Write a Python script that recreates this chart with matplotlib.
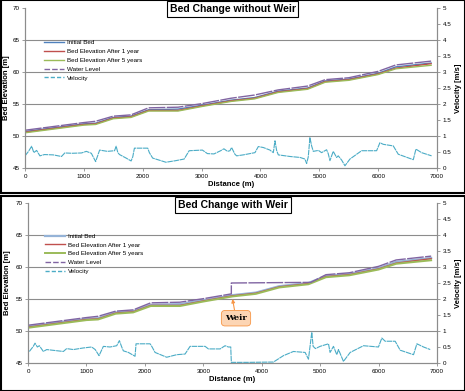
import matplotlib
matplotlib.use('Agg')
import matplotlib.pyplot as plt
from matplotlib.patches import Rectangle

plt.rcParams['font.family'] = ['Liberation Sans', 'DejaVu Sans']

# bed profiles (distance in m, elevation in m)
bed_dist = [0, 1000, 1200, 1500, 1800, 2100, 2600, 3000, 3500, 3900, 4300, 4800, 5100, 5500, 6000, 6300, 6900]
bed_initial = [50.7, 51.9, 52.0, 52.9, 53.1, 54.1, 54.2, 54.8, 55.6, 56.0, 57.0, 57.5, 58.6, 58.9, 59.8, 60.8, 61.4]
bed_1yr = [50.6, 51.8, 51.9, 52.8, 53.0, 54.0, 54.0, 54.7, 55.5, 55.9, 56.9, 57.4, 58.5, 58.8, 59.7, 60.6, 61.3]
bed_5yr = [50.5, 51.7, 51.8, 52.7, 52.9, 53.9, 53.9, 54.6, 55.4, 55.8, 56.8, 57.3, 58.4, 58.7, 59.6, 60.5, 61.05]

# water level without weir
wl_dist = [0, 1000, 1200, 1500, 1800, 2100, 2600, 3000, 3500, 3900, 4300, 4800, 5100, 5500, 6000, 6300, 6900]
wl_no_weir = [50.9, 52.1, 52.3, 53.1, 53.3, 54.4, 54.5, 55.05, 55.9, 56.4, 57.2, 57.8, 58.8, 59.1, 60.1, 61.1, 61.7]

# water level with weir (backwater behind the weir at ~3480 m)
wl_weir_dist = [0, 1000, 1200, 1500, 1800, 2100, 2600, 3000, 3480, 3480, 4840, 5100, 5500, 6000, 6300, 6900]
wl_weir = [50.9, 52.1, 52.3, 53.1, 53.3, 54.4, 54.5, 55.05, 55.8, 57.5, 57.6, 58.8, 59.1, 60.1, 61.1, 61.7]

# velocity without weir (m/s)
vel_dist = [0, 60, 113, 150, 197, 253, 330, 480, 620, 676, 800, 960, 1042, 1127, 1200, 1268, 1400,
            1521, 1549, 1577, 1606, 1718, 1803, 1831, 1859, 2085, 2113, 2169, 2394, 2563, 2704, 2789,
            3014, 3099, 3211, 3324, 3380, 3440, 3482, 3510, 3567, 3596, 3709, 3907, 3964, 4049, 4162,
            4219, 4247, 4275, 4304, 4502, 4672, 4756, 4785, 4813, 4841, 4870, 4898, 4985, 5039, 5124,
            5152, 5181, 5237, 5294, 5322, 5379, 5436, 5521, 5719, 5974, 6030, 6087, 6257, 6342, 6597,
            6642, 6738, 6908]
vel_no_weir = [0.38, 0.52, 0.68, 0.48, 0.55, 0.38, 0.42, 0.41, 0.36, 0.47, 0.46, 0.47, 0.52, 0.46, 0.2, 0.56, 0.52,
               0.54, 0.68, 0.48, 0.42, 0.31, 0.22, 0.35, 0.62, 0.62, 0.48, 0.31, 0.18, 0.23, 0.28, 0.54,
               0.56, 0.45, 0.44, 0.54, 0.6, 0.52, 0.54, 0.64, 0.43, 0.38, 0.41, 0.48, 0.67, 0.64, 0.56,
               0.48, 0.85, 0.55, 0.41, 0.36, 0.33, 0.28, 0.14, 0.35, 0.95, 0.69, 0.52, 0.55, 0.48, 0.57,
               0.45, 0.23, 0.52, 0.33, 0.38, 0.25, 0.07, 0.28, 0.54, 0.54, 0.79, 0.74, 0.69, 0.43, 0.26,
               0.59, 0.48, 0.38]

# velocity with weir (m/s)
vel_weir_dist = [23, 91, 120, 160, 194, 263, 320, 605, 662, 776, 947, 1090, 1150, 1216, 1290, 1404, 1518,
                 1564, 1604, 1632, 1718, 1832, 1849, 2089, 2118, 2175, 2374, 2546, 2688, 2774, 3031, 3088,
                 3288, 3373, 3430, 3470, 3480, 3773, 4201, 4372, 4543, 4743, 4800, 4857, 4880, 4920, 4999,
                 5143, 5170, 5228, 5285, 5314, 5399, 5514, 5742, 5998, 6056, 6113, 6284, 6370, 6598, 6656,
                 6770, 6884]
vel_weir = [0.36, 0.52, 0.62, 0.5, 0.54, 0.36, 0.42, 0.36, 0.45, 0.42, 0.47, 0.5, 0.42, 0.23, 0.52, 0.5, 0.54,
            0.7, 0.5, 0.38, 0.33, 0.21, 0.6, 0.6, 0.52, 0.33, 0.18, 0.26, 0.28, 0.52, 0.52, 0.44,
            0.44, 0.54, 0.5, 0.5, 0.02, 0.02, 0.03, 0.23, 0.36, 0.33, 0.12, 0.96, 0.52, 0.45, 0.52,
            0.6, 0.33, 0.52, 0.26, 0.42, 0.05, 0.33, 0.54, 0.5, 0.78, 0.68, 0.68, 0.4, 0.26, 0.6,
            0.5, 0.42]

W, H = 465, 391
fig = plt.figure(figsize=(W / 100, H / 100), dpi=100)


def px_axes(left, top, right, bottom):
    return fig.add_axes([left / W, 1 - bottom / H, (right - left) / W, (bottom - top) / H])


def draw_panel(ax, wl_x, wl_y, v_x, v_y, init_color, init_lw, green_lw, leg_anchor, ypad):
    ax.plot(bed_dist, bed_initial, color=init_color, lw=init_lw, label='Initial Bed')
    ax.plot(bed_dist, bed_1yr, color='#c0504d', lw=1.0, label='Bed Elevation After 1 year')
    ax.plot(bed_dist, bed_5yr, color='#9bbb59', lw=green_lw, label='Bed Elevation After 5 years')
    ax.plot(wl_x, wl_y, color='#8064a2', lw=1.0, ls=(0, (12, 1)))
    # legend samples show the dash style more clearly
    ax.plot([], [], color='#8064a2', lw=1.0, ls=(0, (4, 1.5)), label='Water Level')
    ax.plot([], [], color='#4bacc6', lw=1.0, ls=(0, (3, 1.5)), label='Velocity')

    ax.set_xlim(0, 7000)
    ax.set_ylim(45, 70)
    ax.set_xticks(range(0, 7001, 1000))
    ax.set_yticks(range(45, 71, 5))
    for y in range(50, 70, 5):
        ax.axhline(y, color='#8c8c8c', lw=0.8, zorder=0)
    ax.spines['top'].set_visible(False)
    for side in ['left', 'right', 'bottom']:
        ax.spines[side].set_color('#8c8c8c')
        ax.spines[side].set_linewidth(0.8)
    ax.tick_params(labelsize=4.5, length=2, width=0.6, color='#8c8c8c', pad=2)
    ax.set_xlabel('Distance (m)', fontsize=5.5, fontweight='bold', labelpad=2)
    ax.set_ylabel('Bed Elevation [m]', fontsize=5.5, fontweight='bold', labelpad=ypad)

    ax2 = ax.twinx()
    ax2.plot(v_x, v_y, color='#4bacc6', lw=0.8, ls=(0, (5, 0.6)))
    ax2.set_ylim(0, 5)
    ax2.set_yticks([i * 0.5 for i in range(11)])
    ax2.set_yticklabels(['0', '0.5', '1', '1.5', '2', '2.5', '3', '3.5', '4', '4.5', '5'])
    ax2.spines['top'].set_visible(False)
    for side in ['left', 'right', 'bottom']:
        ax2.spines[side].set_color('#8c8c8c')
        ax2.spines[side].set_linewidth(0.8)
    ax2.tick_params(labelsize=4.5, length=2, width=0.6, color='#8c8c8c', pad=2)
    ax2.set_ylabel('Velocity [m/s]', fontsize=5.5, fontweight='bold', rotation=90, labelpad=3)

    ax.legend(loc='upper left', bbox_to_anchor=leg_anchor, frameon=False, fontsize=4.5,
              handlelength=3.2, handletextpad=0.5, labelspacing=0.55, borderpad=0, borderaxespad=0)
    return ax2


# top panel
ax_top = px_axes(25, 8, 437, 168)
draw_panel(ax_top, wl_dist, wl_no_weir, vel_dist, vel_no_weir, '#4f81bd', 1.0, 1.0, (0.046, 0.8), 1.5)

# bottom panel
ax_bot = px_axes(28, 203, 437, 363)
draw_panel(ax_bot, wl_weir_dist, wl_weir, vel_weir_dist, vel_weir, '#95b3d7', 1.6, 1.4, (0.042, 0.81), 3.5)
ax_bot.annotate('Weir', xy=(3500, 55.0), xytext=(3560, 52.0), fontsize=6, fontweight='bold',
                family='DejaVu Serif', ha='center', va='center',
                bbox=dict(boxstyle='round,pad=0.45', fc='#fcd5b4', ec='#f79646', lw=0.6),
                arrowprops=dict(arrowstyle='-|>', color='#f79646', lw=0.8, mutation_scale=5,
                                shrinkA=0, shrinkB=0))

# panel frames
fig.add_artist(Rectangle((0.5 / W, 1 - 193 / H), (W - 1) / W, 192.5 / H, transform=fig.transFigure,
                         fill=False, ec='black', lw=1.5))
fig.add_artist(Rectangle((0.5 / W, 0.5 / H), (W - 1) / W, 195 / H, transform=fig.transFigure,
                         fill=False, ec='black', lw=1.5))

# title boxes
fig.text(232.5 / W, 1 - 9 / H, 'Bed Change without Weir', fontsize=7.5, fontweight='bold',
         ha='center', va='center', bbox=dict(boxstyle='square,pad=0.25', fc='white', ec='black', lw=0.8))
fig.text(233 / W, 1 - 205 / H, 'Bed Change with Weir', fontsize=7.5, fontweight='bold',
         ha='center', va='center', bbox=dict(boxstyle='square,pad=0.25', fc='white', ec='black', lw=0.8))

fig.savefig('out.png', dpi=100)
